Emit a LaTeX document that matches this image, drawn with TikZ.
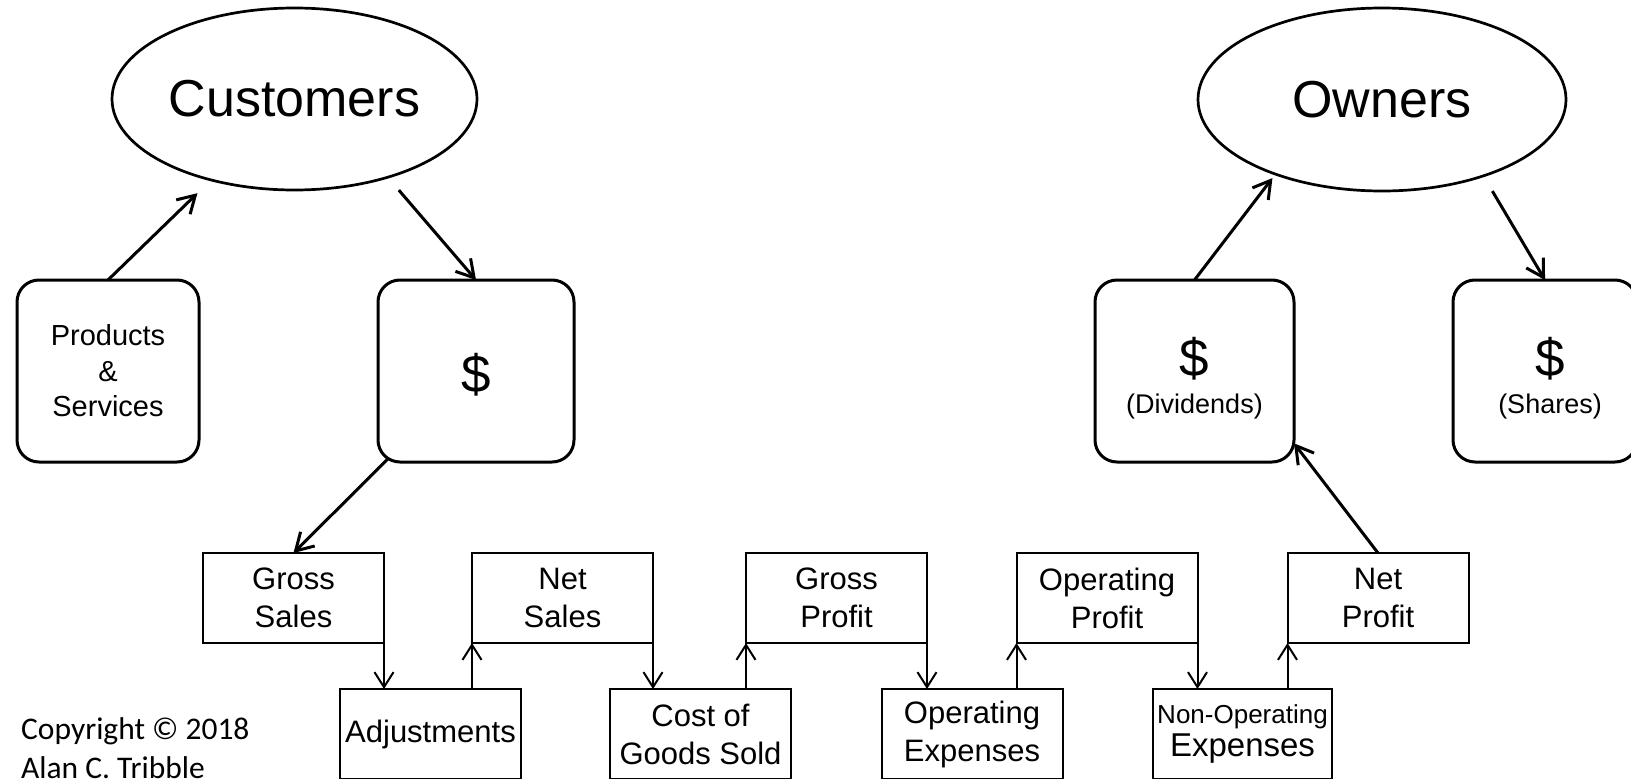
\documentclass[tikz,border=0pt]{standalone}
\usepackage{fontspec}
\setmainfont{Liberation Sans}
\newfontfamily\calfont{Carlito}
\usetikzlibrary{arrows.meta,shapes.geometric}
\newcommand\fsz[2]{\fontsize{#1pt}{#2pt}\selectfont}
\tikzset{
  oval/.style={draw, line width=2.7pt, ellipse, inner sep=0pt, outer sep=0pt, minimum width=365pt, minimum height=182pt, font=\fsz{52}{60}},
  rbox/.style={draw, line width=3pt, rounded corners=22pt, inner sep=0pt, outer sep=0pt, minimum height=182pt, align=center},
  sbox/.style={draw, line width=2pt, inner sep=0pt, outer sep=0pt, minimum width=181pt, minimum height=90pt, align=center, font=\fsz{31}{38}},
  bigarr/.style={line width=3pt, -{Straight Barb[length=17pt,width=20pt]}},
  smallarr/.style={line width=2pt, -{Straight Barb[length=15pt,width=19pt]}},
  boxtxt/.style={anchor=base, inner sep=0pt},
}
\begin{document}
\begin{tikzpicture}[x=1pt,y=-1pt]
\fill[white] (0,0) rectangle (1631,779);
\useasboundingbox (0,0) rectangle (1631,779);

% ellipses
\node[oval] (cust) at (294.5,99) {Customers};
\node[oval, minimum width=368pt, minimum height=183pt] (own) at (1382,99.5) {Owners};

% rounded boxes
\node[rbox, minimum width=182pt, font=\fsz{29}{35.5}] (prod) at (108,371) {Products\\\&\\Services};
\node[rbox, minimum width=196pt] (dol) at (476,371) {};
\node[boxtxt, font=\fsz{53}{60}] (dolD) at (476,392) {\$};
\node[rbox, minimum width=199pt] (divid) at (1194.5,371) {};
\node[rbox, minimum width=184pt] (shares) at (1545,371) {};
\node[boxtxt, font=\fsz{53}{60}] (dividD) at (1194.5,376) {\$};
\node[boxtxt, font=\fsz{27}{32}] (dividT) at (1194.5,413) {(Dividends)};
\node[boxtxt, font=\fsz{53}{60}] (sharesD) at (1550,376) {\$};
\node[boxtxt, font=\fsz{27}{32}] (sharesT) at (1550,413) {(Shares)};

% top row
\node[sbox] (gross)  at (293.5,598) {Gross\\Sales};
\node[sbox] (nets)   at (562.5,598) {Net\\Sales};
\node[sbox] (grossp) at (836.5,598) {Gross\\Profit};
\node[sbox] (opp)    at (1107,598)  {Operating\\Profit};
\node[sbox] (netp)   at (1378,598)  {Net\\Profit};

% bottom row
\node[sbox] (adj)   at (430.5,734) {Adjustments};
\node[sbox] (cogs)  at (700.5,734) {Cost of\\Goods Sold};
\node[sbox] (opex)  at (972,734)   {Operating\\Expenses};
\node[sbox, minimum width=179pt, font=\fsz{31}{33}] (nonop) at (1242.5,734) {{\fsz{26}{33}Non-Operating}\\{\fsz{33}{33}Expenses}};

% upper arrows
\draw[bigarr, shorten >=19pt] (prod.north) -- (cust);
\draw[bigarr, shorten <=17pt] (cust.320.5) -- (dol.north);
\draw[bigarr, shorten <=-5pt] (dol) -- (gross.north);
\draw[bigarr, shorten >=5pt] (divid.north) -- (own.215.3);
\draw[bigarr, shorten <=17.7pt] (own.323) -- (shares.north);
\draw[bigarr] (netp.north) -- (divid.-36);

% flow arrows
\draw[smallarr] (gross.south east) -- (gross.south east |- adj.north);
\draw[smallarr] (nets.south west |- adj.north) -- (nets.south west);
\draw[smallarr] (nets.south east) -- (nets.south east |- cogs.north);
\draw[smallarr] (grossp.south west |- cogs.north) -- (grossp.south west);
\draw[smallarr] (grossp.south east) -- (grossp.south east |- opex.north);
\draw[smallarr] (opp.south west |- opex.north) -- (opp.south west);
\draw[smallarr] (opp.south east) -- (opp.south east |- nonop.north);
\draw[smallarr] (netp.south west |- nonop.north) -- (netp.south west);

% copyright
\node[anchor=base west, inner sep=0pt, font=\calfont\fsz{31.5}{42}] (copy1) at (21,739) {Copyright © 2018};
\node[anchor=base west, inner sep=0pt, font=\calfont\fsz{31.5}{42}] (copy2) at (21,778) {Alan C. Tribble};
\end{tikzpicture}
\end{document}
